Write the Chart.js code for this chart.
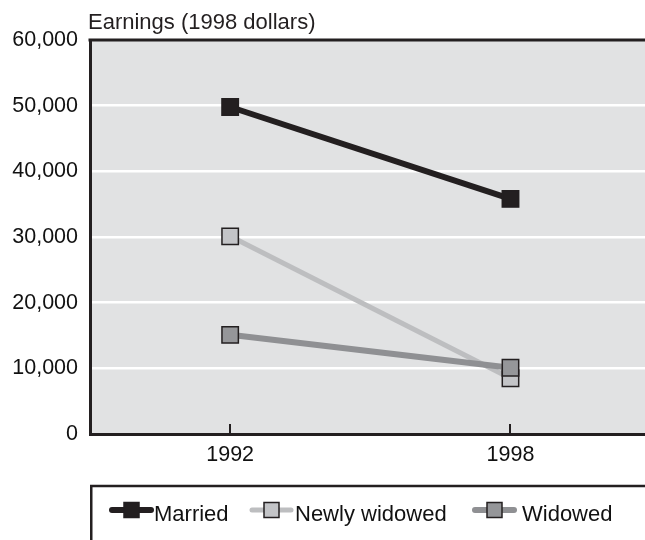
<!DOCTYPE html>
<html lang="en">

<head>
    <meta charset="UTF-8">
    <title>Earnings (1998 dollars)</title>
    <script src="https://cdn.jsdelivr.net/npm/chart.js"></script>
    <style>
        body {
            margin: 0;
            background-color: #fff;
            overflow: hidden;
        }

        /* canvas is a bit wider than the window: the plot runs off the right edge */
        #myChart {
            display: block;
        }
    </style>
</head>

<body>
    <canvas id="myChart" width="660" height="540"></canvas>

    <script>
        // data
        const years = [1992, 1998];
        const seriesNames = ['Married', 'Newly widowed', 'Widowed'];
        const married = [49800, 35800];
        const newlyWidowed = [30100, 8500];
        const widowed = [15100, 10100];
        const yTicks = [0, 10000, 20000, 30000, 40000, 50000, 60000];
        const yTitle = 'Earnings (1998 dollars)';

        const dark = '#231f20';
        const plotBg = '#e1e2e3';
        const fontFamily = '"Liberation Sans", Arial, Helvetica, sans-serif';

        function toPoints(values) {
            return years.map((yr, i) => ({ x: yr, y: values[i] }));
        }

        const datasets = [
            {
                label: seriesNames[0],
                data: toPoints(married),
                borderColor: dark,
                borderWidth: 6,
                pointBackgroundColor: dark,
                pointBorderColor: dark,
                order: 0
            },
            {
                label: seriesNames[1],
                data: toPoints(newlyWidowed),
                borderColor: '#bdbec0',
                borderWidth: 5,
                pointBackgroundColor: '#c3c4c7',
                pointBorderColor: dark,
                order: 2
            },
            {
                label: seriesNames[2],
                data: toPoints(widowed),
                borderColor: '#8f9093',
                borderWidth: 6,
                pointBackgroundColor: '#959699',
                pointBorderColor: dark,
                order: 1
            }
        ];
        datasets.forEach(ds => {
            ds.pointStyle = 'rect';
            ds.pointRadius = 11.6;
            ds.pointHoverRadius = 11.6;
            ds.pointBorderWidth = 1.5;
            ds.tension = 0;
            ds.fill = false;
        });

        // grey plot background, top frame line, inner tick marks, title and legend
        const decorations = {
            id: 'decorations',
            beforeDraw(chart) {
                const { ctx, chartArea: a } = chart;
                ctx.save();
                ctx.fillStyle = plotBg;
                ctx.fillRect(a.left, a.top, a.right - a.left, a.bottom - a.top);
                ctx.restore();
            },
            afterDraw(chart) {
                const { ctx, chartArea: a } = chart;
                const xScale = chart.scales.x;
                ctx.save();

                // top frame
                ctx.strokeStyle = dark;
                ctx.lineWidth = 3;
                ctx.beginPath();
                ctx.moveTo(a.left - 1.5, a.top);
                ctx.lineTo(a.right, a.top);
                ctx.stroke();

                // tick marks pointing into the plot
                ctx.lineWidth = 2;
                years.forEach(yr => {
                    const px = Math.round(xScale.getPixelForValue(yr));
                    ctx.beginPath();
                    ctx.moveTo(px, a.bottom);
                    ctx.lineTo(px, a.bottom - 10);
                    ctx.stroke();
                });

                // axis title
                ctx.fillStyle = dark;
                ctx.font = '22px ' + fontFamily;
                ctx.textAlign = 'left';
                ctx.textBaseline = 'alphabetic';
                ctx.fillText(yTitle, 88, 28.5);

                // legend box
                ctx.lineWidth = 2.5;
                ctx.beginPath();
                ctx.moveTo(91.25, 540);
                ctx.lineTo(91.25, 486);
                ctx.lineTo(chart.width, 486);
                ctx.stroke();

                // legend items (in dataset index order)
                const lineStart = [112, 252, 475];
                const textStart = [154, 295, 522];
                const cy = 510;
                chart.data.datasets.forEach((ds, i) => {
                    ctx.strokeStyle = ds.borderColor;
                    ctx.lineWidth = ds.borderWidth;
                    ctx.lineCap = 'round';
                    ctx.beginPath();
                    ctx.moveTo(lineStart[i], cy);
                    ctx.lineTo(lineStart[i] + 39, cy);
                    ctx.stroke();

                    const s = 15;
                    const sx = lineStart[i] + 19.5 - s / 2;
                    ctx.fillStyle = ds.pointBackgroundColor;
                    ctx.fillRect(sx, cy - s / 2, s, s);
                    ctx.strokeStyle = ds.pointBorderColor;
                    ctx.lineWidth = 1.5;
                    ctx.strokeRect(sx, cy - s / 2, s, s);

                    ctx.fillStyle = '#111';
                    ctx.font = '22px ' + fontFamily;
                    ctx.textAlign = 'left';
                    ctx.textBaseline = 'alphabetic';
                    ctx.fillText(ds.label, textStart[i], 520.5);
                });

                ctx.restore();
            }
        };

        const ctx = document.getElementById('myChart').getContext('2d');
        const myChart = new Chart(ctx, {
            type: 'line',
            data: { datasets: datasets },
            plugins: [decorations],
            options: {
                responsive: false,
                animation: false,
                layout: {
                    autoPadding: false,
                    padding: { top: 40, right: 0, bottom: 66, left: 0 }
                },
                plugins: {
                    legend: { display: false },
                    title: { display: false },
                    tooltip: { enabled: false }
                },
                scales: {
                    x: {
                        type: 'linear',
                        min: 1989,
                        max: 2001.2,
                        afterBuildTicks: scale => {
                            scale.ticks = years.map(v => ({ value: v }));
                        },
                        afterFit: scale => {
                            scale.height = 40;
                            scale.paddingLeft = 0;
                            scale.paddingRight = 0;
                        },
                        grid: { display: false, drawTicks: false },
                        border: { display: true, color: dark, width: 3 },
                        ticks: {
                            color: '#111',
                            padding: 8,
                            font: { family: fontFamily, size: 21.5 },
                            callback: value => String(value)
                        }
                    },
                    y: {
                        type: 'linear',
                        min: 0,
                        max: 60000,
                        afterBuildTicks: scale => {
                            scale.ticks = yTicks.map(v => ({ value: v }));
                        },
                        afterFit: scale => {
                            scale.width = 90;
                            scale.paddingTop = 0;
                            scale.paddingBottom = 0;
                        },
                        grid: {
                            drawTicks: false,
                            lineWidth: 2.5,
                            color: c => (c.tick && (c.tick.value === 0 || c.tick.value === 60000)) ? 'rgba(0,0,0,0)' : '#ffffff'
                        },
                        border: { display: true, color: dark, width: 3 },
                        ticks: {
                            color: '#111',
                            padding: 12,
                            font: { family: fontFamily, size: 21.5 },
                            callback: value => value.toLocaleString('en-US')
                        }
                    }
                }
            }
        });
    </script>
</body>

</html>
